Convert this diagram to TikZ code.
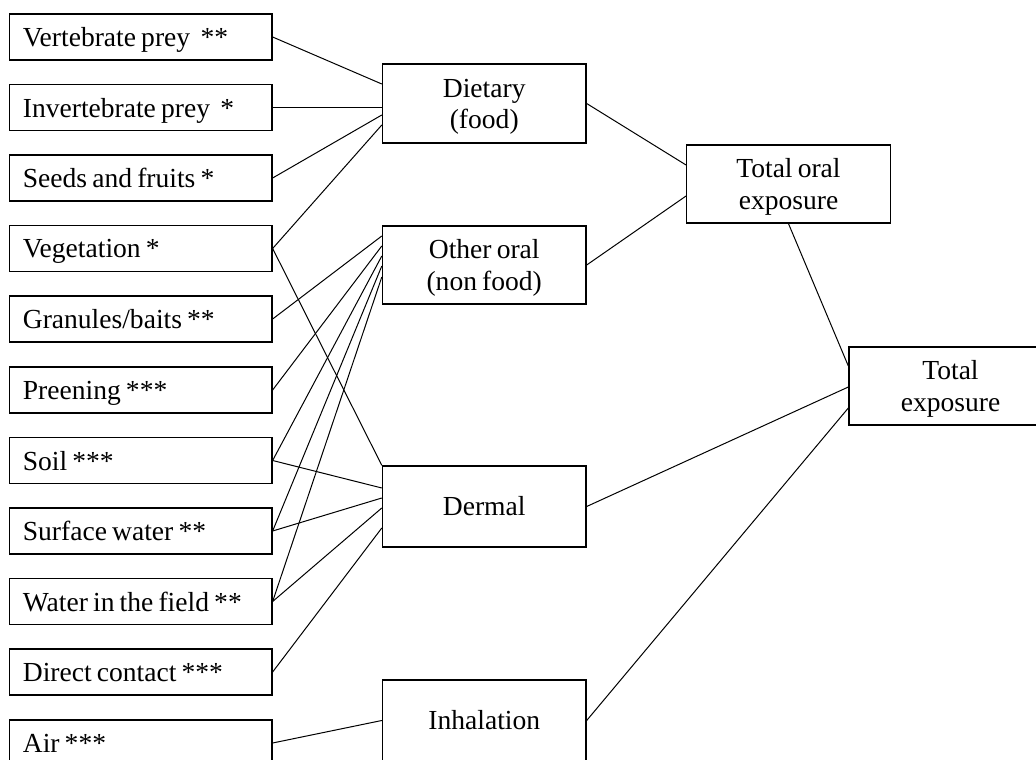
\documentclass[12pt,tikz,border=0pt]{standalone}
\usepackage{fontspec}
\setmainfont{Liberation Serif}[WordSpace=0.75]
\usetikzlibrary{calc}

\begin{document}
\begin{tikzpicture}[x=0.45pt,y=-0.45pt,
	every node/.style={font=\fontsize{12.4pt}{14.1pt}\selectfont},
	src/.style={draw,line width=0.6pt,minimum height=20.7pt,text width=106.1pt,inner xsep=6pt,align=flush left,text depth=0pt},
	route/.style={draw,line width=0.6pt,minimum width=91.6pt,inner sep=0pt,align=center},
	link/.style={line width=0.45pt}]
	\useasboundingbox (0,0) rectangle (1036,760);
	\clip (0,0) rectangle (1036,760);

	\node [src] (vert) at (140.75,37) {Vertebrate prey~ **};		% sources
	\node [src] (invert) at (140.75,107.5) {Invertebrate prey~ *};
	\node [src] (seeds) at (140.75,178) {Seeds and fruits *};
	\node [src] (veg) at (140.75,248.5) {Vegetation *};
	\node [src] (gran) at (140.75,319) {Granules/baits **};
	\node [src] (preen) at (140.75,390) {Preening ***};
	\node [src] (soil) at (140.75,460.5) {Soil ***};
	\node [src] (surf) at (140.75,531) {Surface water **};
	\node [src] (field) at (140.75,601.5) {Water in the field **};
	\node [src] (contact) at (140.75,672) {Direct contact ***};
	\node [src] (air) at (140.75,743) {Air ***};

	\node [route,minimum height=35.55pt] (diet) at (484.25,103.5) {\rule{0pt}{11.3pt}Dietary\\(food)};	% routes
	\node [route,minimum height=35.1pt] (oral) at (484.25,265) {\rule{0pt}{11.3pt}Other oral\\(non food)};
	\node [route,minimum height=36.45pt] (derm) at (484.25,506.5) {Dermal};
	\node [route,minimum height=36.45pt] (inhal) at (484.25,720.5) {Inhalation};

	\node [route,minimum height=35.1pt] (totoral) at (788.5,184) {\rule{0pt}{11.3pt}Total oral\\exposure};	% totals
	\node [route,minimum width=91.35pt,minimum height=35.1pt] (total) at (950.5,386) {\rule{0pt}{11.3pt}Total\\exposure};

	\draw [link] (vert.east) -- ($(diet.west)+(0,-19.5)$);
	\draw [link] (invert.east) -- ($(diet.west)+(0,4)$);
	\draw [link] (seeds.east) -- ($(diet.west)+(0,11.5)$);
	\draw [link] (veg.east) -- ($(diet.west)+(0,21.5)$);
	\draw [link] (veg.east) -- (derm.north west);

	\draw [link] (gran.east) -- ($(oral.west)+(0,-29)$);
	\draw [link] (preen.east) -- ($(oral.west)+(0,-19)$);
	\draw [link] (soil.east) -- ($(oral.west)+(0,-9)$);
	\draw [link] (surf.east) -- ($(oral.west)+(0,1)$);
	\draw [link] (field.east) -- ($(oral.west)+(0,12)$);

	\draw [link] (soil.east) -- ($(derm.west)+(0,-18.5)$);
	\draw [link] (surf.east) -- ($(derm.west)+(0,-8.5)$);
	\draw [link] (field.east) -- ($(derm.west)+(0,1.5)$);
	\draw [link] (contact.east) -- ($(derm.west)+(0,21.5)$);
	\draw [link] (air.east) -- (inhal.west);

	\draw [link] (diet.east) -- ($(totoral.west)+(0,-19)$);
	\draw [link] (oral.east) -- ($(totoral.west)+(0,12)$);
	\draw [link] (totoral.south) -- ($(total.west)+(0,-20)$);
	\draw [link] (derm.east) -- ($(total.west)+(0,1)$);
	\draw [link] (inhal.east) -- ($(total.west)+(0,22)$);
\end{tikzpicture}
\end{document}
